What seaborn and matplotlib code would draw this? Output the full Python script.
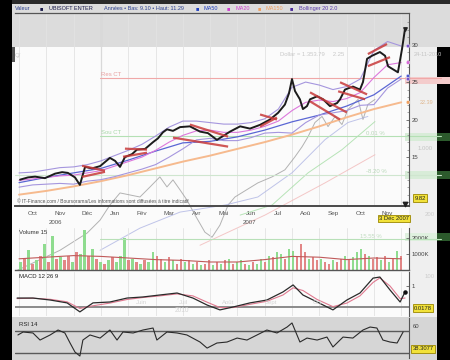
import numpy as np
import pandas as pd
import matplotlib
matplotlib.use("Agg")
import matplotlib.pyplot as plt
import seaborn as sns
from matplotlib.patches import Rectangle

# ------------------------------------------------------------------ data
month_labels = ["Oct", "Nov", "Déc", "Jan", "Fév", "Mar", "Avr", "Mai",
                "Jun", "Jul", "Aoû", "Sep", "Oct", "Nov"]
year_labels = ["2006", "2007"]
price_ticks = [15, 20, 25, 30]

# daily price (x = months since 1 Oct 2006, y = EUR)
price_m = [0.04, 0.33, 0.59, 0.95, 1.32, 1.58, 1.79, 2.05, 2.23, 2.42,
           2.67, 2.97, 3.33, 3.52, 3.70, 3.88, 4.14, 4.32, 4.62, 4.91,
           5.09, 5.27, 5.42, 5.64, 5.90, 6.26, 6.63, 6.92, 7.25, 7.47,
           7.73, 8.10, 8.46, 8.83, 9.19, 9.49, 9.74, 9.89, 10.00, 10.11,
           10.29, 10.40, 10.55, 10.66, 10.92, 11.14, 11.39, 11.65, 11.76, 11.94,
           12.23, 12.49, 12.60, 12.75, 12.93, 13.22, 13.41, 13.52, 13.70, 13.88,
           14.03, 14.14]
price_v = [12.0, 12.3, 12.4, 12.2, 12.8, 13.0, 12.9, 12.3, 11.3, 13.7,
           13.5, 13.8, 14.9, 14.5, 13.7, 15.0, 15.4, 16.0, 16.1, 17.0,
           17.5, 18.3, 18.7, 18.5, 19.0, 19.1, 18.4, 18.2, 17.3, 17.8,
           18.4, 19.1, 18.8, 19.3, 20.0, 20.9, 22.0, 23.5, 25.4, 23.8,
           22.7, 21.4, 21.8, 22.7, 23.1, 22.7, 21.8, 22.2, 22.7, 24.0,
           24.4, 24.0, 25.0, 28.1, 28.5, 29.0, 28.5, 27.1, 26.7, 26.3,
           29.4, 32.1]

ind_m = [0.0, 0.5, 1.0, 1.5, 2.0, 2.5, 3.0, 3.5, 4.0, 4.5, 5.0, 5.5, 6.0, 6.5,
         7.0, 7.5, 8.0, 8.5, 9.0, 9.5, 10.0, 10.5, 11.0, 11.5, 12.0, 12.5,
         13.0, 13.5, 14.0]
ma20 = [11.9, 12.1, 12.3, 12.5, 12.6, 12.9, 13.2, 13.8, 14.4, 15.0, 15.9, 17.0,
        17.9, 18.5, 18.6, 18.3, 18.3, 18.6, 19.1, 19.8, 21.2, 22.3, 22.6, 22.4,
        22.8, 23.6, 25.6, 27.3, 27.6]
boll_up = [12.9, 13.0, 13.3, 13.6, 13.7, 14.0, 14.5, 15.2, 15.9, 16.7, 17.8, 19.0,
           19.8, 19.8, 19.6, 19.4, 19.4, 19.6, 20.1, 21.4, 24.3, 25.0, 24.6, 24.0,
           24.4, 25.4, 29.2, 30.4, 29.8]
boll_lo = [11.0, 11.3, 11.4, 11.5, 11.4, 11.8, 12.0, 12.4, 12.9, 13.4, 14.0, 15.0,
           16.1, 17.3, 17.5, 17.2, 17.2, 17.6, 18.2, 18.3, 18.2, 19.6, 20.6, 20.9,
           21.2, 21.9, 22.0, 24.2, 25.4]
ma_m = [0, 1, 2, 3, 4, 5, 6, 7, 8, 9, 10, 11, 12, 13, 14]
ma50 = [11.6, 12.3, 12.9, 13.5, 14.6, 15.8, 16.9, 17.1, 17.7, 18.6, 19.7, 20.6,
        21.8, 23.3, 25.8]
ma150 = [10.0, 10.5, 11.1, 11.8, 12.6, 13.5, 14.4, 15.2, 16.1, 17.0, 18.0, 19.1,
         20.3, 21.4, 22.3]

# trend-channel annotations: (start month, start price) -> (end month, end price)
chan_m0 = [2.31, 2.31, 3.88, 3.81, 6.26, 5.64, 8.83, 8.83, 10.66, 10.66, 11.76, 11.69, 12.78, 12.78]
chan_v0 = [13.85, 12.37, 16.13, 15.05, 19.34, 17.60, 20.68, 19.07, 23.63, 22.43, 24.97, 23.77, 28.73, 27.12]
chan_m1 = [3.15, 3.15, 4.69, 4.69, 7.66, 7.66, 9.45, 9.45, 12.01, 11.76, 12.75, 12.68, 13.48, 13.59]
chan_v1 = [13.18, 13.04, 16.00, 15.59, 17.73, 16.40, 20.01, 20.28, 20.95, 20.01, 23.36, 22.70, 30.07, 28.32]

res_ct = 25.5
sou_ct = 17.8
fib_low = 12.64

# faded series from the cross-dissolved second chart
ghost_a_m = [-0.07, 1.50, 2.49, 2.97, 3.33, 3.70, 4.43, 4.80, 5.16, 5.42, 5.64, 5.90,
             6.15, 6.45, 6.81, 7.07, 7.36, 7.66, 7.91, 8.75, 9.27, 9.74, 10.11,
             10.37, 10.59, 10.84, 11.10, 11.32, 11.58, 11.83, 12.05, 12.42, 12.60,
             12.78, 13.04]
ghost_a_v = [-0.09, 2.59, 4.87, 6.61, 8.62, 10.23, 9.69, 11.03, 12.37, 11.03, 11.97,
             10.63, 9.29, 7.28, 5.00, 4.33, 5.94, 8.62, 9.69, 11.57, 12.37, 13.31,
             15.05, 16.39, 17.73, 19.61, 20.42, 19.07, 20.42, 19.34, 21.35, 22.69,
             20.01, 22.02, 22.69]
ghost_b_m = [2.97, 4.43, 5.90, 7.55, 8.75, 10.00, 11.21, 12.05, 12.78]
ghost_b_v = [2.59, 5.54, 7.68, 8.62, 9.69, 12.91, 17.33, 19.61, 20.42]
ghost_c_m = [8.10, 9.27, 10.59, 11.83, 13.04]
ghost_c_v = [7.28, 8.62, 12.91, 15.99, 19.74]
ghost_d_m = [6.63, 9.01, 11.21, 13.04]
ghost_d_v = [3.26, 7.28, 11.57, 15.32]

# volume (thousands of shares), 'g' = up day, 'r' = down day
vol_k = [500, 700, 1250, 400, 600, 900, 1600, 500, 2100, 700,
         800, 600, 900, 500, 1100, 1000, 2500, 900, 1300, 700,
         500, 400, 600, 800, 500, 900, 2000, 600, 700, 500,
         400, 600, 500, 1150, 900, 700, 500, 800, 600, 400,
         700, 500, 600, 400, 500, 300, 400, 600, 300, 500,
         400, 600, 700, 400, 500, 600, 400, 300, 500, 400,
         700, 500, 900, 800, 1100, 1000, 700, 1300, 1200, 900,
         1600, 1100, 700, 800, 600, 700, 500, 400, 600, 500,
         700, 900, 600, 800, 1100, 1300, 1000, 900, 700, 800,
         600, 900, 500, 700, 1200, 900]
vol_dir = ("grgrgrgrgr" "grrgrggrgr" "grgrgggrgr" "grggrrgrgr" "rgrgrgrrgr"
           "grgrggrgrg" "grgrggrggr" "rrgrrgrrgr" "rgrgggrgrr" "grgrgr")
vol_ma = [700, 800, 900, 850, 750, 650, 600, 500, 500, 650, 850, 800, 650, 750, 700]
vol_ghost_level = 1940

# MACD 12 26 9
macd_m = [-0.07, 0.51, 1.14, 1.76, 2.23, 2.71, 3.33, 3.96, 4.54, 5.16, 5.79, 6.37,
          6.89, 7.36, 7.84, 8.46, 9.08, 9.67, 10.04, 10.40, 10.92, 11.50, 12.01,
          12.49, 12.97, 13.22, 13.59, 13.96, 14.14]
macd = [0.33, 0.33, 0.22, 0.06, -0.44, 0.06, 0.11, 0.33, 0.39, 0.50, 0.61, 0.33,
        -0.06, -0.33, -0.17, 0.06, 0.22, 0.67, 1.06, 0.50, 0.11, -0.33, 0.22,
        0.61, 1.44, 1.50, 0.78, 0.11, 0.67]
macd_sig = [0.30, 0.32, 0.26, 0.12, -0.25, -0.10, 0.05, 0.25, 0.36, 0.45, 0.56, 0.45,
            0.10, -0.20, -0.20, -0.02, 0.15, 0.50, 0.90, 0.75, 0.25, -0.15, 0.05,
            0.45, 1.20, 1.45, 1.00, 0.30, 0.33]
macd_ref = -0.17

# RSI 14
rsi_m = [-0.04, 0.15, 0.51, 0.77, 1.14, 1.43, 1.68, 1.87, 2.05, 2.23, 2.34, 2.60,
         2.97, 3.33, 3.59, 3.81, 4.18, 4.54, 4.91, 5.05, 5.42, 5.79, 6.15, 6.63,
         6.89, 7.25, 7.62, 7.99, 8.35, 8.72, 9.08, 9.45, 9.82, 10.00, 10.29, 10.55,
         10.92, 11.28, 11.50, 11.87, 12.23, 12.60, 12.86, 13.11, 13.33, 13.59,
         13.85, 14.07]
rsi = [56.4, 59.1, 58.2, 51.8, 56.4, 60.9, 58.2, 49.1, 40.9, 37.3, 51.8, 56.4,
       53.6, 60.9, 51.8, 59.1, 58.2, 60.9, 62.7, 51.8, 59.1, 58.2, 56.4, 50.0,
       44.5, 49.1, 50.0, 53.6, 51.8, 56.4, 60.9, 58.2, 63.6, 67.3, 50.0, 53.6,
       51.8, 54.5, 45.5, 54.5, 53.6, 60.9, 63.6, 62.7, 51.8, 50.0, 49.1, 59.1]
rsi_levels = [60, 40]

# ------------------------------------------------------------------ style
sns.set_theme(style="white")
plt.rcParams["font.family"] = ["Liberation Sans", "DejaVu Sans"]
plt.rcParams["axes.unicode_minus"] = False

W, H = 450, 360
fig = plt.figure(figsize=(W / 100, H / 100), dpi=100, facecolor="black")
FS = 4.3
XLIM = (-0.147, 14.286)


def rect_px(x0, y0, x1, y1):
    return [x0 / W, 1 - y1 / H, (x1 - x0) / W, (y1 - y0) / H]


def bg(x0, y0, x1, y1, color, z=0, alpha=1.0):
    fig.add_artist(Rectangle((x0 / W, 1 - y1 / H), (x1 - x0) / W, (y1 - y0) / H,
                             transform=fig.transFigure, facecolor=color,
                             edgecolor="none", zorder=z, alpha=alpha))


def ftext(px, py, s, **kw):
    kw.setdefault("fontsize", FS)
    kw.setdefault("va", "center")
    kw.setdefault("zorder", 6)
    fig.text(px / W, 1 - py / H, s, **kw)


ybox = dict(boxstyle="square,pad=0.25", fc="#f2e23a", ec="#9a8600", lw=0.6)

# backgrounds of the screen capture
bg(12, 0, 450, 4, "#2a2a2a")
bg(12, 4, 450, 47, "#dcdcdc")
bg(12, 47, 437, 317, "#fbfbfb")
bg(409, 47, 437, 317, "#efefef")
bg(12, 47, 15, 62, "#555555")
bg(12, 317, 437, 360, "#d6d6d6")
# ghost label boxes on the right
bg(405, 77, 450, 84, "#f4cccc", z=0.2)
bg(405, 133, 437, 141, "#d8ecd8", z=0.2)
bg(437, 133, 450, 141, "#2c5a2c", z=0.2)
bg(405, 171, 437, 179, "#d8ecd8", z=0.2)
bg(437, 171, 450, 179, "#2c5a2c", z=0.2)
bg(405, 233, 437, 241, "#dff0df", z=0.2)
bg(437, 233, 450, 241, "#2c5a2c", z=0.2)


def style_panel(ax):
    ax.set_facecolor("none")
    ax.set_xlim(*XLIM)
    for s in ["left", "top", "bottom"]:
        ax.spines[s].set_visible(False)
    ax.spines["right"].set_color("#555555")
    ax.spines["right"].set_linewidth(0.8)
    ax.yaxis.tick_right()
    ax.tick_params(axis="y", direction="in", length=2, width=0.5, pad=2,
                   labelsize=FS, colors="#444444")
    ax.set_xticks(range(0, 15))
    ax.tick_params(axis="x", length=0, labelbottom=False)
    ax.grid(axis="x", color="#e2e2e2", lw=0.6)
    ax.set_xlabel("")
    ax.set_ylabel("")


# ------------------------------------------------------------------ main price panel
ax = fig.add_axes(rect_px(15, 13, 409, 206), zorder=2)
style_panel(ax)
ax.set_ylim(8.49, 34.2)
ax.spines["top"].set_visible(True)
ax.spines["top"].set_color("#555555")
ax.spines["top"].set_linewidth(0.9)
ax.spines["bottom"].set_visible(True)
ax.spines["bottom"].set_color("#4a4a4a")
ax.spines["bottom"].set_linewidth(1.4)
ax.set_yticks(price_ticks)
ax.set_yticks(range(9, 34), minor=True)
ax.tick_params(axis="y", which="minor", direction="in", length=1.5, width=0.4, colors="#666666")
ax.set_xticks([k + 0.5 for k in range(14)], minor=True)
ax.set_xticklabels(month_labels, minor=True)
ax.tick_params(axis="x", which="minor", length=0, pad=3.5, labelsize=4.6,
               labelcolor="#555555", labelbottom=True)
ax.axvline(3, color="#b0b0b0", lw=0.8, zorder=0)

# ghost series (cross-fade)
for gm, gv, gc in [(ghost_a_m, ghost_a_v, "#a0a0a0"), (ghost_b_m, ghost_b_v, "#b0b6e4"),
                   (ghost_c_m, ghost_c_v, "#a6dea6"), (ghost_d_m, ghost_d_v, "#f2baba")]:
    sns.lineplot(x=gm, y=gv, ax=ax, color=gc, lw=0.7, alpha=0.8, estimator=None)
for line in ax.lines:
    line.set_clip_on(False)

x_start = (2.97 - XLIM[0]) / (XLIM[1] - XLIM[0])
ax.axhline(res_ct, xmin=x_start, xmax=1.08, color="#f0a8a8", lw=0.8, clip_on=False)
ax.axhline(sou_ct, xmin=x_start, xmax=1.08, color="#b4e0b4", lw=0.8, clip_on=False)
ax.axhline(fib_low, xmin=0, xmax=1.08, color="#cfe6cf", lw=0.8, clip_on=False)
ax.text(3.0, res_ct + 0.25, "Res CT", fontsize=FS, color="#e8a0a0")
ax.text(3.0, sou_ct + 0.25, "Sou CT", fontsize=FS, color="#a8d8a8")
ax.text(12.7, sou_ct + 0.2, "0.01 %", fontsize=FS, color="#b8d8b8")
ax.text(12.7, fib_low + 0.2, "-8.20 %", fontsize=FS, color="#b8d8b8")

sns.lineplot(x=ma_m, y=ma150, ax=ax, color="#f6ba8e", lw=1.4, estimator=None)
sns.lineplot(x=ma_m, y=ma50, ax=ax, color="#5a66d4", lw=0.9, estimator=None)
sns.lineplot(x=ind_m, y=boll_up, ax=ax, color="#a596de", lw=0.8, estimator=None)
sns.lineplot(x=ind_m, y=boll_lo, ax=ax, color="#a596de", lw=0.8, estimator=None)
sns.lineplot(x=ind_m, y=ma20, ax=ax, color="#dc78dc", lw=0.8, estimator=None)
sns.lineplot(x=price_m, y=price_v, ax=ax, color="#1c1c1c", lw=1.4, estimator=None)
for m0, v0, m1, v1 in zip(chan_m0, chan_v0, chan_m1, chan_v1):
    ax.plot([m0, m1], [v0, v1], color="#c83a3a", lw=1.6, alpha=0.85, solid_capstyle="butt")

# end-of-series tags at the right edge
tag_vals = [boll_up[-1], ma20[-1], ma50[-1], boll_lo[-1], ma150[-1]]
tag_cols = ["#7a52c8", "#d86ad8", "#4a58d0", "#7a52c8", "#f0a060"]
ax.scatter([14.25] * len(tag_vals), tag_vals, s=7, c=tag_cols, edgecolors="white",
           linewidths=0.3, zorder=5, clip_on=False)
ax.scatter([14.14], [price_v[-1]], s=6, marker="v", c="#222222", zorder=5, clip_on=False)
ax.scatter([14.14], [8.75], s=10, marker="v", c="#222222", zorder=5, clip_on=False)

ax.text(-0.08, 8.95, "© IT-Finance.com / Boursorama/Les informations sont diffusées à titre indicatif",
        fontsize=3.5, color="#555555")

# ------------------------------------------------------------------ volume panel
axv = fig.add_axes(rect_px(15, 228, 409, 270), zorder=3)
style_panel(axv)
axv.set_ylim(0, 2625)
vol_m = np.linspace(0.05, 14.0, len(vol_k))
vol_cols = ["#8fdc8f" if d == "g" else "#e28686" for d in vol_dir]
axv.bar(vol_m, vol_k, width=0.085, color=vol_cols, linewidth=0)
sns.lineplot(x=ma_m, y=vol_ma, ax=axv, color="#c05a5a", lw=0.8, estimator=None)
axv.axhline(vol_ghost_level, xmin=x_start, xmax=1.08, color="#b8e0b8", lw=0.8, clip_on=False)
axv.spines["bottom"].set_visible(True)
axv.spines["bottom"].set_color("#555555")
axv.spines["bottom"].set_linewidth(1.0)
axv.set_yticks([1000, 2000])
axv.set_yticklabels(["1000K", "2000K"])
axv.text(0.0, 2250, "Volume 15", fontsize=FS, color="#333333")
axv.text(12.5, 1980, "15.55 %", fontsize=FS, color="#c0dcc0")

# ------------------------------------------------------------------ MACD panel
axm = fig.add_axes(rect_px(15, 272, 409, 316), zorder=3)
style_panel(axm)
axm.set_ylim(-0.67, 1.78)
axm.axhline(macd_ref, color="#8a8a8a", lw=1.4)
sns.lineplot(x=macd_m, y=macd_sig, ax=axm, color="#e07a90", lw=0.8, estimator=None)
sns.lineplot(x=macd_m, y=macd, ax=axm, color="#2a2a2a", lw=0.9, estimator=None)
axm.scatter([macd_m[-1]], [macd[-1]], s=5, c="#111111", zorder=5, clip_on=False)
axm.set_yticks([1.0])
axm.set_yticklabels(["1"])
axm.text(0.0, 1.45, "MACD 12 26 9", fontsize=FS, color="#222222")
for xm, s in [(4.3, "Juin"), (5.85, "Juil"), (7.45, "Août"), (9.0, "Sept"), (10.75, "Oct")]:
    axm.text(xm, 0.02, s, fontsize=FS, color="#d4d4d4")
axm.text(5.7, -0.45, "2010", fontsize=FS + 0.4, color="#d4d4d4")

# ------------------------------------------------------------------ RSI panel
axr = fig.add_axes(rect_px(15, 318, 409, 358), zorder=3)
style_panel(axr)
axr.grid(False)
axr.set_ylim(35.5, 71.8)
for lv in rsi_levels:
    axr.axhline(lv, color="#5a5a5a", lw=1.0)
sns.lineplot(x=rsi_m, y=rsi, ax=axr, color="#2a2a2a", lw=0.8, estimator=None)
axr.set_yticks([])
axr.text(0.0, 64.5, "RSI 14", fontsize=FS, color="#222222")

# ------------------------------------------------------------------ header & labels
hdr = [(15, "Valeur", "#2a3f8f"), (40, "■", "#1a1a4a"), (49, "UBISOFT ENTER", "#1a1a4a"),
       (104, "Années • Bas: 9.10 • Haut: 11.29", "#2a3f8f"),
       (196, "■", "#2040c0"), (204, "MA50", "#2040c0"),
       (227, "■", "#d040d0"), (235, "MA20", "#d040d0"),
       (258, "■", "#f0a060"), (266, "MA150", "#f0a060"),
       (290, "■", "#4a2a9a"), (299, "Bollinger 20 2.0", "#5a3aaa")]
for px, s, c in hdr:
    ftext(px, 8.5, s, color=c, fontsize=4.0)

ftext(55, 222, year_labels[0], color="#555555", ha="center", fontsize=4.4)
ftext(250, 222, year_labels[1], color="#555555", ha="center", fontsize=4.4)
ftext(394, 218.5, "3 Déc 2007", color="#222222", ha="center", fontsize=4.2, bbox=ybox)
ftext(420, 198, "9.82", color="#222222", ha="center", fontsize=4.2, bbox=ybox)
ftext(423, 308, "0.0178", color="#222222", ha="center", fontsize=4.2, bbox=ybox)
ftext(423, 349, "38.3077", color="#222222", ha="center", fontsize=4.2, bbox=ybox)
ftext(413, 327, "60", color="#444444")
ftext(425, 214, "200", color="#cccccc")
ftext(425, 277, "100", color="#cccccc")
ftext(414, 55, "24-11-2010", color="#c4c4c4", fontsize=4.0)
ftext(418, 148, "1.000", color="#c4c4c4")
ftext(420, 102, "22.39", color="#e0b890", fontsize=4.0)
ftext(280, 55, "Dollar = 1.353.79     2.25", color="#c8c8c8", fontsize=4.2)
ftext(15, 55, "Q/", color="#cccccc")

fig.savefig("out.png", dpi=100, facecolor=fig.get_facecolor())
